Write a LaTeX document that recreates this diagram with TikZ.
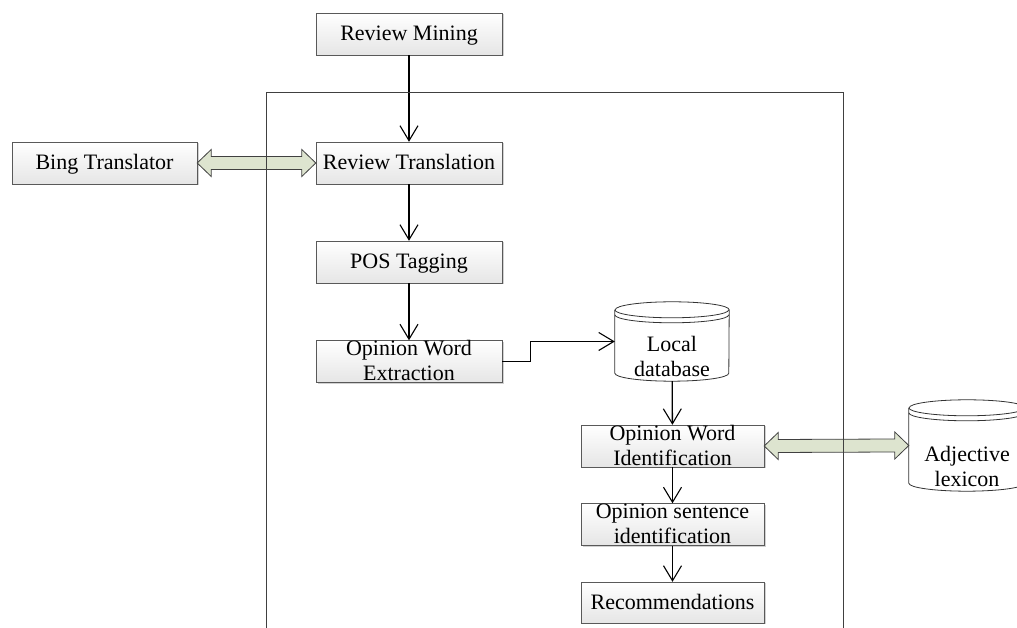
\documentclass[tikz,border=0pt]{standalone}
\usepackage{fontspec}
\setmainfont{Liberation Serif}
\usetikzlibrary{arrows.meta, calc, shadows}

\definecolor{framegray}{RGB}{64,64,64}
\definecolor{sagefill}{RGB}{221,228,207}

\tikzset{
  stepbox/.style={draw=black!65, top color=white, bottom color=black!10,
    drop shadow={shadow xshift=1.5pt, shadow yshift=-1.5pt, fill=black!30, opacity=0.6},
    minimum width=186pt, minimum height=42pt, inner sep=0pt,
    text height=14pt, text depth=0pt},
  dbnode/.style={inner sep=0pt, text height=14pt, text depth=0pt},
  dbline/.style={draw=black!80, line width=0.8pt},
  flow/.style={line width=1.3pt, -{Straight Barb[length=15pt, width=18pt, line width=1.1pt]}},
  fatarrow/.style={draw=framegray, line width=0.8pt, fill=sagefill, line join=miter},
}

% two centred lines that do not change the box height
\newcommand{\twoline}[3][0pt]{\smash{\raisebox{#1}{\begin{tabular}{@{}c@{}}#2\\#3\end{tabular}}}}
% cylinder drawn round a named node: node name, half width
\newcommand{\dbshape}[2]{%
  \draw[dbline] ([yshift=-8pt]#1.north west) -- ([yshift=8pt]#1.south west)
    arc[start angle=180, end angle=360, x radius=#2, y radius=8pt]
    -- ([yshift=-8pt]#1.north east)
    arc[start angle=0, end angle=180, x radius=#2, y radius=8pt];
  \draw[dbline] ([yshift=-8pt]#1.north west)
    arc[start angle=180, end angle=360, x radius=#2, y radius=8pt];
  \draw[dbline] ([yshift=-13pt]#1.north west)
    arc[start angle=180, end angle=360, x radius=#2, y radius=8pt];
}
% broad double arrow between two points on one level
\newcommand{\fatlink}[2]{%
  \draw[fatarrow] (#1) -- ++(14,13.5) -- ++(0,-7) -- ($(#2)+(-14,6.5)$) -- ++(0,7)
    -- (#2) -- ++(-14,-13.5) -- ++(0,7) -- ($(#1)+(14,-6.5)$) -- ++(0,-7) -- cycle;
}

\begin{document}
\begin{tikzpicture}[x=1pt, y=1pt, font=\fontsize{22}{25}\selectfont]
    \useasboundingbox (0,0) rectangle (1017,628);

    % left column
    \node[stepbox] (mining) at (409,594) {Review Mining};
    \node[stepbox] (translation) at (409,465) {Review Translation};
    \node[stepbox, minimum width=185pt] (bing) at (104.5,465) {Bing Translator};
    \node[stepbox] (pos) at (409,366) {POS Tagging};
    \node[stepbox] (extraction) at (409,266.5) {\twoline{Opinion Word}{Extraction}};

    % right column
    \node[dbnode, minimum width=114pt, minimum height=79pt] (localdb) at (672,286.5) {\twoline[-16pt]{Local}{database}};
    \dbshape{localdb}{57pt}
    \node[stepbox, minimum width=183pt] (identification) at (672.5,182) {\twoline{Opinion Word}{Identification}};
    \node[stepbox, minimum width=183pt] (sentence) at (672.5,103.5) {\twoline{Opinion sentence}{identification}};
    \node[stepbox, minimum width=183pt, minimum height=41pt] (recommend) at (672.5,25.5) {Recommendations};
    \node[dbnode, minimum width=116pt, minimum height=91pt] (lexicon) at (967,182.5) {\twoline[-22pt]{Adjective}{lexicon}};
    \dbshape{lexicon}{58pt}

    % connectors
    \draw[flow] (mining) -- (translation);
    \draw[flow] (translation) -- (pos);
    \draw[flow] (pos) -- (extraction);
    \draw[flow] (extraction.east) -- ++(28,0) |- (localdb.west);
    \draw[flow] (localdb) -- (identification);
    \draw[flow] (identification) -- (sentence);
    \draw[flow] (sentence) -- (recommend);

    \fatlink{bing.east}{translation.west}
    \fatlink{identification.east}{lexicon.west}

    % frame, open at the bottom
    \draw[framegray, line width=0.9pt] (266,-5) -- (266,536) -- (843,536) -- (843,-5);
\end{tikzpicture}
\end{document}
